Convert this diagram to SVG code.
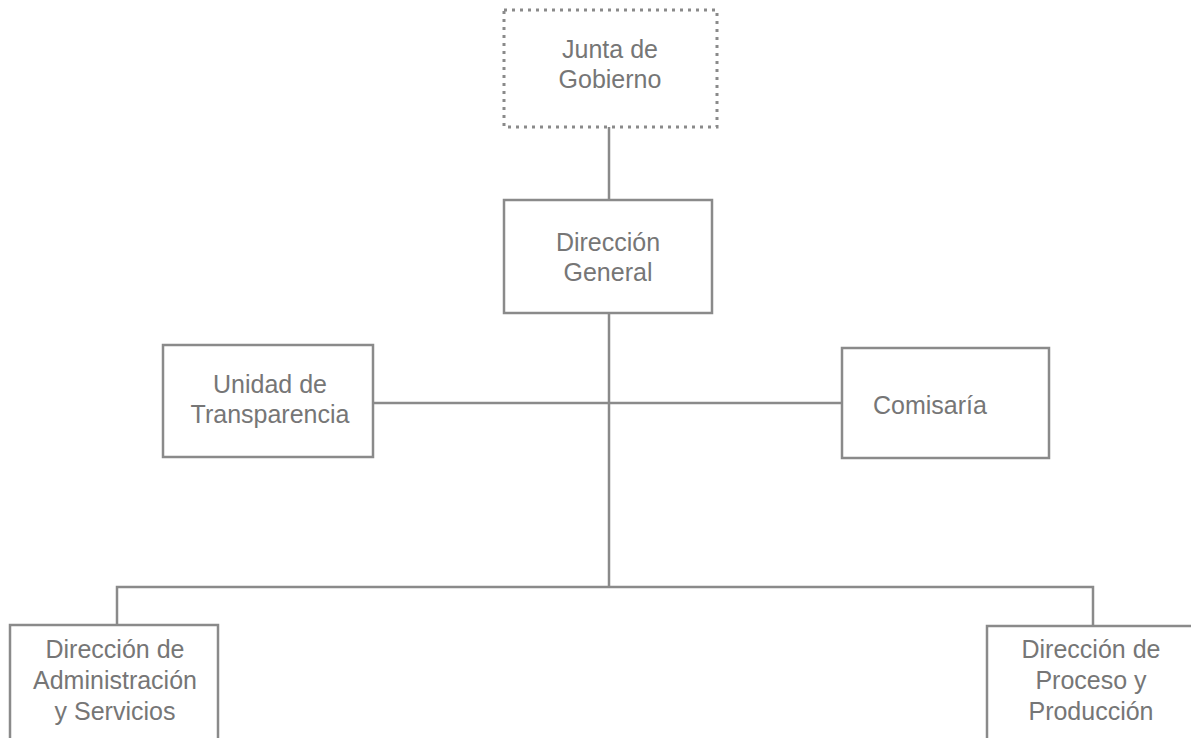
<svg xmlns="http://www.w3.org/2000/svg" width="1191" height="738" viewBox="0 0 1191 738">
<style>
.box{fill:#fff;stroke:#8a8a8a;stroke-width:2.5}
.dot{fill:#fff;stroke:#8a8a8a;stroke-width:3;stroke-dasharray:3 5}
.ln{stroke:#8a8a8a;stroke-width:2.5;fill:none}
text{font-family:"Liberation Sans",Arial,sans-serif;font-size:25px;fill:#767676;text-anchor:middle}
</style>
<rect width="1191" height="738" fill="#fff"/>
<g id="connectors">
<line class="ln" x1="609" y1="127" x2="609" y2="200"/>
<line class="ln" x1="609" y1="313" x2="609" y2="587"/>
<line class="ln" x1="373" y1="403" x2="842" y2="403"/>
<polyline class="ln" points="117,625 117,587 1093,587 1093,626"/>
</g>
<g id="junta">
<rect class="dot" x="504" y="10" width="213" height="117"/>
<text x="610" y="58">Junta de</text>
<text x="610" y="88">Gobierno</text>
</g>
<g id="direccion-general">
<rect class="box" x="504" y="200" width="208" height="113"/>
<text x="608" y="251">Dirección</text>
<text x="608" y="281">General</text>
</g>
<g id="unidad-transparencia">
<rect class="box" x="163" y="345" width="210" height="112"/>
<text x="270" y="393">Unidad de</text>
<text x="270" y="423">Transparencia</text>
</g>
<g id="comisaria">
<rect class="box" x="842" y="348" width="207" height="110"/>
<text x="930" y="414">Comisaría</text>
</g>
<g id="dir-admin">
<rect class="box" x="10" y="625" width="208" height="125"/>
<text x="115" y="658">Dirección de</text>
<text x="115" y="689">Administración</text>
<text x="115" y="720">y Servicios</text>
</g>
<g id="dir-proceso">
<rect class="box" x="987" y="626" width="215" height="125"/>
<text x="1091" y="658">Dirección de</text>
<text x="1091" y="689">Proceso y</text>
<text x="1091" y="720">Producción</text>
</g>
</svg>
